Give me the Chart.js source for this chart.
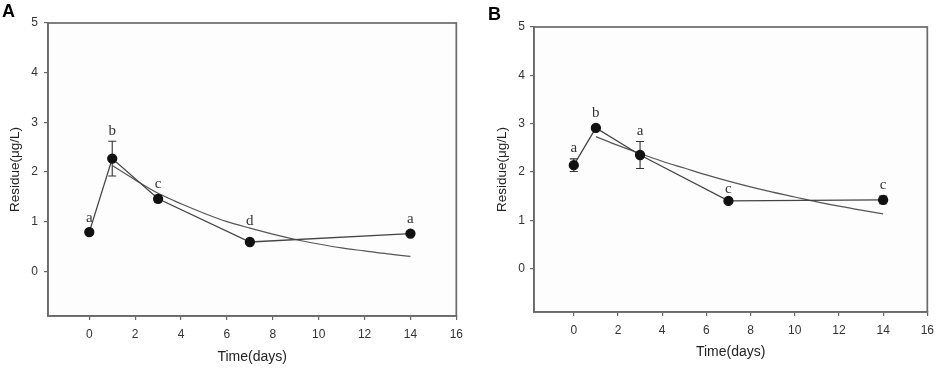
<!DOCTYPE html>
<html lang="en">
<head>
<meta charset="UTF-8">
<title>Residue over time</title>
<script src="https://cdn.jsdelivr.net/npm/chart.js"></script>
<style>
    body {
        margin: 0;
        background: #fff;
        font-family: 'Liberation Sans', Arial, sans-serif;
    }
    .wrap {
        position: relative;
        width: 941px;
        height: 369px;
    }
    #boxA { position: absolute; left: 0; top: 0; width: 470px; height: 369px; }
    #boxB { position: absolute; left: 470px; top: 0; width: 471px; height: 369px; }
</style>
</head>
<body>
<div class="wrap">
    <div id="boxA"><canvas id="chartA" width="470" height="369"></canvas></div>
    <div id="boxB"><canvas id="chartB" width="471" height="369"></canvas></div>
</div>

<script>
    // sampling days
    const times = [0, 1, 3, 7, 14];
    const xTicks = [0, 2, 4, 6, 8, 10, 12, 14, 16];
    const yTicks = [0, 1, 2, 3, 4, 5];

    // panel A
    const meanA = [0.79, 2.27, 1.46, 0.59, 0.76];
    const errA = [0.05, 0.35, 0.07, 0.03, 0.04];
    const lettersA = ['a', 'b', 'c', 'd', 'a'];
    const letterYA = [1.00, 2.75, 1.68, 0.94, 0.98];

    // panel B
    const meanB = [2.14, 2.91, 2.35, 1.40, 1.42];
    const errB = [0.13, 0.05, 0.28, 0.02, 0.08];
    const lettersB = ['a', 'b', 'a', 'c', 'c'];
    const letterYB = [2.42, 3.14, 2.77, 1.57, 1.65];

    // fitted decay curves
    const fitX = [1, 2, 3, 4, 5, 6, 7, 8, 9, 10, 11, 12, 13, 14];
    const fitA = [2.13, 1.84, 1.57, 1.36, 1.17, 1.00, 0.87, 0.75, 0.64, 0.55, 0.47, 0.41, 0.35, 0.30];
    const fitB = [2.73, 2.55, 2.38, 2.22, 2.08, 1.94, 1.81, 1.69, 1.58, 1.48, 1.38, 1.29, 1.21, 1.13];

    const sans = "'Liberation Sans', Arial, sans-serif";
    const serif = "'Liberation Serif', 'Times New Roman', serif";

    const panelPlugin = {
        id: 'panel',
        beforeDraw(chart, args, opts) {
            const { ctx, chartArea: a } = chart;
            ctx.save();
            ctx.fillStyle = '#fdfdfd';
            ctx.fillRect(a.left, a.top, a.right - a.left, a.bottom - a.top);
            ctx.restore();
        },
        beforeDatasetsDraw(chart, args, opts) {
            const { ctx, scales: { x, y } } = chart;
            ctx.save();
            ctx.strokeStyle = '#333';
            ctx.lineWidth = 1.1;
            opts.mean.forEach((m, i) => {
                const px = x.getPixelForValue(times[i]);
                const top = y.getPixelForValue(m + opts.err[i]);
                const bot = y.getPixelForValue(m - opts.err[i]);
                ctx.beginPath();
                ctx.moveTo(px, top); ctx.lineTo(px, bot);
                ctx.moveTo(px - 4, top); ctx.lineTo(px + 4, top);
                ctx.moveTo(px - 4, bot); ctx.lineTo(px + 4, bot);
                ctx.stroke();
            });
            ctx.restore();
        },
        afterDraw(chart, args, opts) {
            const { ctx, chartArea: a, scales: { x, y } } = chart;
            ctx.save();
            ctx.strokeStyle = '#6a6a6a';
            ctx.lineWidth = 1.7;
            ctx.strokeRect(a.left, a.top, a.right - a.left, a.bottom - a.top);

            ctx.fillStyle = '#333';
            ctx.font = '15px ' + serif;
            ctx.textAlign = 'center';
            ctx.textBaseline = 'alphabetic';
            opts.letters.forEach((t, i) => {
                ctx.fillText(t, x.getPixelForValue(times[i]), y.getPixelForValue(opts.letterY[i]));
            });

            ctx.fillStyle = '#000';
            ctx.font = 'bold 18px ' + sans;
            ctx.textAlign = 'left';
            ctx.textBaseline = 'top';
            ctx.fillText(opts.tag, opts.tagX, opts.tagY);
            ctx.restore();
        }
    };

    function makeChart(id, mean, err, fit, letters, letterY, geo) {
        return new Chart(document.getElementById(id), {
            type: 'scatter',
            data: {
                datasets: [
                    {
                        data: times.map((t, i) => ({ x: t, y: mean[i] })),
                        showLine: true,
                        borderColor: '#444',
                        borderWidth: 1.3,
                        pointRadius: 4.5,
                        pointBackgroundColor: '#111',
                        pointBorderColor: '#111',
                        order: 1
                    },
                    {
                        data: fitX.map((t, i) => ({ x: t, y: fit[i] })),
                        showLine: true,
                        borderColor: '#555',
                        borderWidth: 1.2,
                        pointRadius: 0,
                        cubicInterpolationMode: 'monotone',
                        order: 2
                    }
                ]
            },
            options: {
                responsive: false,
                animation: false,
                layout: { padding: { left: 0, top: geo.top, right: geo.right, bottom: 0 } },
                plugins: {
                    legend: { display: false },
                    tooltip: { enabled: false },
                    panel: { mean, err, letters, letterY, tag: geo.tag, tagX: geo.tagX, tagY: geo.tagY }
                },
                scales: {
                    x: {
                        type: 'linear',
                        min: -1.8,
                        max: 16,
                        afterBuildTicks: s => { s.ticks = xTicks.map(v => ({ value: v })); },
                        afterFit: s => { s.height = geo.xh; },
                        grid: { drawOnChartArea: false, tickLength: 4, color: '#666', lineWidth: 1.2 },
                        border: { color: '#666', width: 1.5 },
                        ticks: { padding: 7, color: '#333', font: { family: sans, size: 12 } },
                        title: {
                            display: true,
                            text: 'Time(days)',
                            color: '#222',
                            font: { family: sans, size: 14 },
                            padding: { top: 0, bottom: geo.xtp }
                        }
                    },
                    y: {
                        type: 'linear',
                        min: -0.9,
                        max: 5,
                        afterBuildTicks: s => { s.ticks = yTicks.map(v => ({ value: v })); },
                        afterFit: s => { s.width = geo.yw; },
                        grid: { drawOnChartArea: false, tickLength: 4, color: '#666', lineWidth: 1.2 },
                        border: { color: '#666', width: 1.5 },
                        ticks: { padding: geo.ytp, color: '#333', font: { family: sans, size: 12 } },
                        title: {
                            display: true,
                            text: 'Residue(μg/L)',
                            color: '#222',
                            font: { family: sans, size: 13.5 },
                            padding: { top: geo.ytitle, bottom: 0 }
                        }
                    }
                }
            },
            plugins: [panelPlugin]
        });
    }

    makeChart('chartA', meanA, errA, fitA, lettersA, letterYA,
        { top: 23, right: 13, xh: 53, yw: 48, xtp: 3, ytp: 6, ytitle: 7, tag: 'A', tagX: 2, tagY: 3 });
    makeChart('chartB', meanB, errB, fitB, lettersB, letterYB,
        { top: 27, right: 8, xh: 57, yw: 64, xtp: 8, ytp: 5, ytitle: 24, tag: 'B', tagX: 18, tagY: 6 });
</script>
</body>
</html>
